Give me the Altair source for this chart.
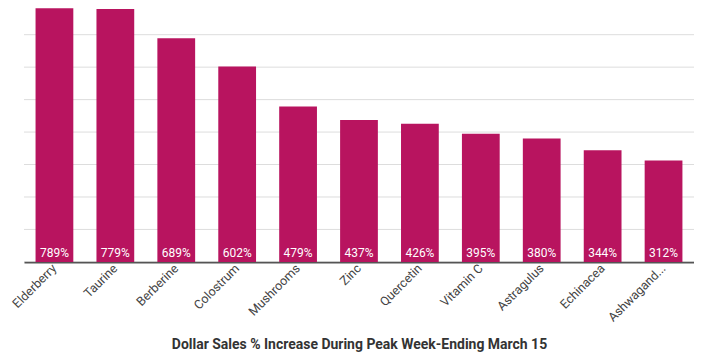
import altair as alt
import pandas as pd

categories = ["Elderberry", "Taurine", "Berberine", "Colostrum", "Mushrooms", "Zinc",
              "Quercetin", "Vitamin C", "Astragulus", "Echinacea", "Ashwagandha"]
values = [789, 779, 689, 602, 479, 437, 426, 395, 380, 344, 312]
labels = [f"{v}%" for v in values]
grid_values = [0, 100, 200, 300, 400, 500, 600, 700, 800]

df = pd.DataFrame({"cat": categories, "val": values, "lab": labels})
gdf = pd.DataFrame({"g": grid_values})

x = alt.X("cat:N", sort=categories,
          scale=alt.Scale(paddingInner=0.38, paddingOuter=0.19),
          axis=alt.Axis(title="Dollar Sales % Increase During Peak Week-Ending March 15",
                        labelAngle=-45, labelAlign="right", labelBaseline="middle",
                        labelFont="Roboto", labelFontSize=12.5, labelColor="#444444",
                        labelPadding=4, ticks=False,
                        labelExpr="datum.label == 'Ashwagandha' ? 'Ashwagand...' : datum.label",
                        domainColor="#555555", domainWidth=2,
                        titleFont="Roboto", titleFontSize=14, titleFontWeight="bold",
                        titleColor="#333333", titleY=76, titleBaseline="top"))

yscale = alt.Scale(domain=[0, 781.5], nice=False)

grid = alt.Chart(gdf).mark_rule(color="#dddddd", strokeWidth=1, clip=True).encode(
    y=alt.Y("g:Q", scale=yscale, axis=None)
)

bars = alt.Chart(df).mark_bar(color="#B8145F", clip=True).encode(
    x=x,
    y=alt.Y("val:Q", scale=yscale, axis=None)
)

text = alt.Chart(df).mark_text(color="white", font="Roboto", fontSize=12,
                               baseline="middle", dy=-9).encode(
    x=alt.X("cat:N", sort=categories),
    y=alt.datum(0),
    text="lab:N"
)

chart = alt.layer(grid, bars, text).properties(
    width=671, height=254,
    autosize=alt.AutoSizeParams(type="none"),
    padding={"left": 16, "top": 0, "right": 0, "bottom": 91}
).configure_view(stroke=None).configure_axis(grid=False)

chart.save("out.html", embed_options={"renderer": "svg", "actions": False})
